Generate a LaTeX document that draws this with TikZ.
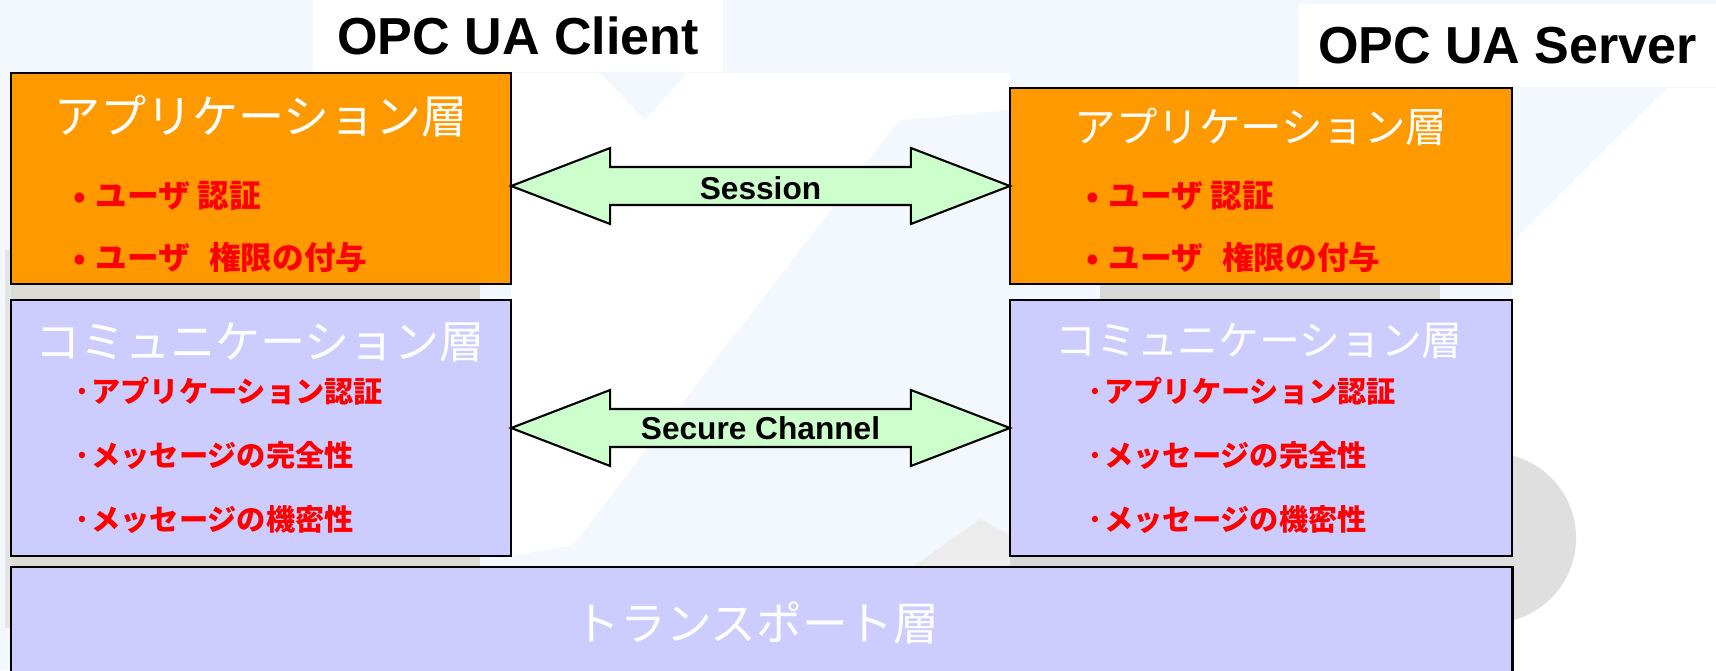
\documentclass[tikz,border=0pt]{standalone}
\usepackage{fontspec}
\setmainfont{Liberation Sans}
\newfontfamily\jpfont{Noto Sans CJK JP}
\usetikzlibrary{calc}
\definecolor{apporange}{RGB}{255,153,0}
\definecolor{commblue}{RGB}{204,204,255}
\definecolor{arrowgreen}{RGB}{204,255,204}
\definecolor{bgblue}{RGB}{243,247,254}
\definecolor{gapgray}{RGB}{220,220,212}
\newcommand{\fsz}[1]{\fontsize{#1}{#1}\selectfont}

\begin{document}
\begin{tikzpicture}[x=0.01cm,y=-0.01cm]
%define
\tikzstyle{applayer} = [rectangle, draw=black, line width=0.6pt, fill=apporange, inner sep=0pt, outer sep=0pt]
\tikzstyle{commlayer} = [rectangle, draw=black, line width=0.6pt, fill=commblue, inner sep=0pt, outer sep=0pt]
\tikzstyle{layertitle} = [text=white, inner sep=0pt]
\tikzstyle{item} = [text=red, inner sep=0pt, anchor=west, font={\jpfont\bfseries\fsz{9pt}}]
\tikzstyle{itemc} = [item, font={\jpfont\bfseries\fsz{8.3pt}}]
\tikzstyle{title} = [fill=white, inner sep=0pt, font={\bfseries\fsz{14.8pt}}]
\tikzstyle{bigarrow} = [draw=black, line width=0.6pt, fill=arrowgreen, line join=miter]
\tikzstyle{arrowlabel} = [inner sep=0pt, font={\bfseries\fsz{9pt}}]
\useasboundingbox (0,0) rectangle (1716,670);

%background
\fill[bgblue] (0,0) rectangle (1716,670);
\fill[white] (511,73) -- (1010,73) -- (1010,110) -- (900,120) -- (573,545) -- (511,556) -- cycle;
\fill[bgblue] (600,73) -- (687,73) -- (645,120) -- cycle;
\fill[white] (1512,88) rectangle (1716,670);
\fill[bgblue] (1512,88) -- (1667,88) -- (1512,242) -- cycle;
\fill[gray!25] (1491,538) circle[radius=0.85cm];
%gaps
\fill[gapgray] (11,284) rectangle (480,300);
\fill[gray!30] (1100,284) rectangle (1440,300);
\fill[gapgray] (11,556) rectangle (480,567);
\fill[gray!30] (1010,556) rectangle (1440,567);
\fill[gray!15] (913,567) -- (980,519) -- (1010,535) -- (1010,567) -- cycle;
\fill[gray!20] (5,250) rectangle (11,628);

%layers
\node[applayer, minimum width=5cm, minimum height=2.11cm] (appC) at (261,178.5) {};
\node[applayer, minimum width=5.02cm, minimum height=1.96cm] (appS) at (1261,186) {};
\node[commlayer, minimum width=5cm, minimum height=2.56cm] (comC) at (261,428) {};
\node[commlayer, minimum width=5.02cm, minimum height=2.56cm] (comS) at (1261,428) {};
\node[commlayer, minimum width=15.01cm, minimum height=1.23cm] (trans) at (761.5,628.5) {};

%titles
\node[title, minimum width=4.1cm, minimum height=0.72cm] (client) at (518,36) {OPC UA Client};
\node[title, minimum width=4.17cm, minimum height=0.83cm] (server) at (1507.5,45.5) {OPC UA Server};

%layer names
\node[layertitle, font={\jpfont\fsz{13.1pt}}] (appCname) at (261,116) {アプリケーション層};
\node[layertitle, font={\jpfont\fsz{11.8pt}}] (appSname) at (1261,127) {アプリケーション層};
\node[layertitle, font={\jpfont\fsz{12.8pt}}] (comCname) at (260,342) {コミュニケーション層};
\node[layertitle, font={\jpfont\fsz{11.6pt}}] (comSname) at (1259,341) {コミュニケーション層};
\node[layertitle, font={\jpfont\fsz{13pt}}] (transname) at (757,623) {トランスポート層};

%items
\foreach \x/\s in {73/C,1086/S}{
  \node[item] (app\s1) at (\x,196) {•\hspace{0.3em}ユーザ 認証};
  \node[item] (app\s2) at (\x,257) {•\hspace{0.3em}ユーザ\hspace{0.6em}権限の付与};
  \node[itemc] (com\s1) at (\x,391) {·アプリケーション認証};
  \node[itemc] (com\s2) at (\x,455) {·メッセージの完全性};
  \node[itemc] (com\s3) at (\x,520) {·メッセージの機密性};
}

%arrows
\coordinate (sesA) at (appC.east |- appS.west);
\coordinate (sesB) at (appS.west);
\draw[bigarrow] (sesA) -- ($(sesA)+(99,-38)$) -- ($(sesA)+(99,-19)$) -- ($(sesB)+(-99,-19)$) -- ($(sesB)+(-99,-38)$) -- (sesB) -- ($(sesB)+(-99,38)$) -- ($(sesB)+(-99,19)$) -- ($(sesA)+(99,19)$) -- ($(sesA)+(99,38)$) -- cycle;
\node[arrowlabel] (session) at ($(sesA)!0.5!(sesB)+(0,2)$) {Session};
\coordinate (secA) at (comC.east);
\coordinate (secB) at (comS.west);
\draw[bigarrow] (secA) -- ($(secA)+(99,-38)$) -- ($(secA)+(99,-19)$) -- ($(secB)+(-99,-19)$) -- ($(secB)+(-99,-38)$) -- (secB) -- ($(secB)+(-99,38)$) -- ($(secB)+(-99,19)$) -- ($(secA)+(99,19)$) -- ($(secA)+(99,38)$) -- cycle;
\node[arrowlabel] (secure) at ($(secA)!0.5!(secB)$) {Secure Channel};

\end{tikzpicture}
\end{document}
